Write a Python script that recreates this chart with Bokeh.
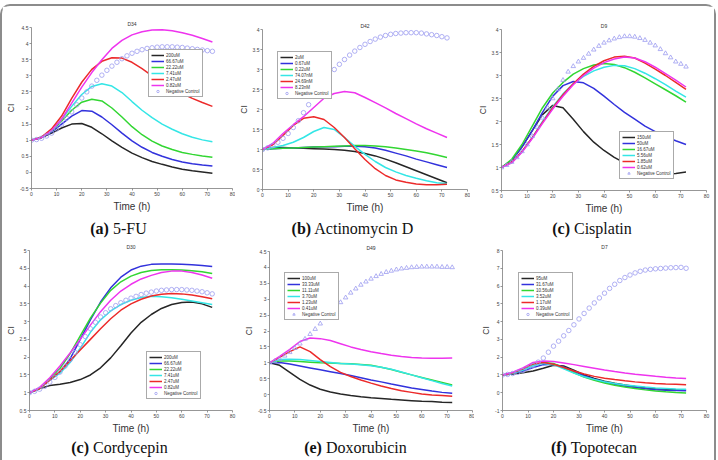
from bokeh.plotting import figure
from bokeh.models import Legend, LegendItem, Div, Range1d, FixedTicker, PrintfTickFormatter
from bokeh.layouts import column, row
from bokeh.embed import file_html
from bokeh.resources import INLINE

# sampling times (hours)
t_fit = [0, 4, 8, 12, 16, 20, 24, 28, 32, 36, 40, 44, 48, 52, 56, 60, 64, 68, 72]
t_ctrl = list(range(0, 73, 2))

# ---- (a) 5-FU, D34 ----
fu_labels = ["200uM", "66.67uM", "22.22uM", "7.41uM", "2.47uM", "0.82uM"]
fu_200 = [1.0, 1.08, 1.22, 1.38, 1.5, 1.52, 1.4, 1.2, 0.98, 0.78, 0.6, 0.46, 0.34, 0.25, 0.17, 0.1, 0.05, 0.01, -0.03]
fu_66 = [1.0, 1.08, 1.25, 1.5, 1.75, 1.92, 1.9, 1.72, 1.48, 1.22, 0.98, 0.78, 0.62, 0.5, 0.4, 0.32, 0.27, 0.23, 0.2]
fu_22 = [1.0, 1.08, 1.28, 1.6, 1.93, 2.18, 2.27, 2.22, 2.0, 1.72, 1.42, 1.17, 0.97, 0.82, 0.71, 0.62, 0.56, 0.51, 0.47]
fu_7 = [1.0, 1.1, 1.3, 1.65, 2.05, 2.42, 2.67, 2.75, 2.68, 2.48, 2.2, 1.93, 1.7, 1.5, 1.34, 1.2, 1.09, 1.01, 0.95]
fu_2 = [1.0, 1.1, 1.35, 1.75, 2.3, 2.8, 3.2, 3.45, 3.56, 3.55, 3.42, 3.22, 3.0, 2.8, 2.6, 2.45, 2.3, 2.17, 2.05]
fu_08 = [1.0, 1.08, 1.3, 1.65, 2.15, 2.65, 3.1, 3.5, 3.85, 4.1, 4.27, 4.37, 4.42, 4.43, 4.4, 4.34, 4.26, 4.16, 4.05]
fu_ctrl = [1.0, 1.02, 1.06, 1.13, 1.22, 1.35, 1.5, 1.68, 1.88, 2.1, 2.31, 2.5, 2.68, 2.86, 3.02, 3.17, 3.3, 3.42, 3.53,
           3.62, 3.7, 3.76, 3.81, 3.85, 3.87, 3.89, 3.9, 3.9, 3.9, 3.89, 3.88, 3.86, 3.84, 3.82, 3.8, 3.78, 3.76]

# ---- (b) Actinomycin D, D42 ----
act_labels = ["2uM", "0.67uM", "0.22uM", "74.07nM", "24.69nM", "8.23nM"]
act_2u = [1.0, 1.05, 1.05, 1.04, 1.03, 1.02, 1.01, 1.0, 0.98, 0.95, 0.9, 0.84, 0.76, 0.67, 0.57, 0.47, 0.37, 0.27, 0.17]
act_067 = [1.0, 1.02, 1.03, 1.04, 1.05, 1.06, 1.07, 1.07, 1.08, 1.08, 1.07, 1.04, 0.98, 0.91, 0.84, 0.76, 0.69, 0.62, 0.55]
act_022 = [1.0, 1.02, 1.03, 1.04, 1.05, 1.06, 1.07, 1.08, 1.09, 1.1, 1.1, 1.09, 1.07, 1.04, 1.0, 0.96, 0.92, 0.86, 0.8]
act_74n = [1.0, 1.05, 1.1, 1.18, 1.3, 1.45, 1.55, 1.5, 1.3, 1.08, 0.88, 0.7, 0.55, 0.44, 0.35, 0.28, 0.22, 0.17, 0.15]
act_25n = [1.0, 1.12, 1.35, 1.6, 1.78, 1.82, 1.75, 1.55, 1.3, 1.02, 0.75, 0.52, 0.35, 0.24, 0.18, 0.14, 0.12, 0.12, 0.13]
act_8n = [1.0, 1.15, 1.4, 1.62, 1.82, 2.05, 2.28, 2.4, 2.45, 2.42, 2.3, 2.17, 2.04, 1.9, 1.77, 1.64, 1.52, 1.41, 1.3]
act_ctrl = [1.0, 1.04, 1.1, 1.18, 1.28, 1.4, 1.55, 1.72, 1.92, 2.12, 2.33, 2.52, 2.7, 2.86, 3.0, 3.13, 3.25, 3.36, 3.46,
            3.55, 3.63, 3.7, 3.76, 3.81, 3.85, 3.88, 3.9, 3.91, 3.92, 3.92, 3.92, 3.91, 3.89, 3.87, 3.85, 3.82, 3.79]

# ---- (c) Cisplatin, D9 ----
cis_labels = ["150uM", "50uM", "16.67uM", "5.56uM", "1.85uM", "0.62uM"]
cis_150 = [1.0, 1.15, 1.45, 1.8, 2.15, 2.35, 2.3, 2.05, 1.78, 1.55, 1.37, 1.22, 1.1, 1.0, 0.93, 0.88, 0.86, 0.87, 0.9]
cis_50 = [1.0, 1.15, 1.45, 1.8, 2.2, 2.55, 2.78, 2.87, 2.84, 2.72, 2.55, 2.37, 2.2, 2.05, 1.9, 1.78, 1.67, 1.58, 1.5]
cis_16 = [1.0, 1.18, 1.5, 1.9, 2.3, 2.62, 2.85, 3.03, 3.15, 3.23, 3.26, 3.24, 3.17, 3.07, 2.95, 2.82, 2.69, 2.56, 2.42]
cis_5 = [1.0, 1.12, 1.35, 1.65, 2.0, 2.32, 2.6, 2.82, 2.98, 3.1, 3.18, 3.22, 3.21, 3.15, 3.05, 2.93, 2.8, 2.66, 2.53]
cis_1 = [1.0, 1.12, 1.35, 1.65, 1.98, 2.3, 2.58, 2.82, 3.03, 3.2, 3.32, 3.4, 3.42, 3.38, 3.27, 3.14, 3.0, 2.85, 2.7]
cis_06 = [1.0, 1.1, 1.33, 1.63, 1.96, 2.27, 2.55, 2.8, 3.0, 3.16, 3.28, 3.36, 3.4, 3.38, 3.3, 3.18, 3.04, 2.9, 2.75]
cis_ctrl = [1.0, 1.05, 1.12, 1.22, 1.35, 1.5, 1.68, 1.88, 2.08, 2.3, 2.5, 2.7, 2.9, 3.08, 3.2, 3.3, 3.38, 3.47, 3.56,
            3.64, 3.71, 3.76, 3.8, 3.83, 3.85, 3.85, 3.84, 3.81, 3.77, 3.71, 3.65, 3.57, 3.48, 3.39, 3.3, 3.25, 3.19]

# ---- (c) Cordycepin, D30 ----
cor_labels = ["200uM", "66.67uM", "22.22uM", "7.41uM", "2.47uM", "0.82uM"]
cor_200 = [1.0, 1.12, 1.2, 1.24, 1.29, 1.37, 1.5, 1.7, 1.98, 2.32, 2.68, 2.98, 3.2, 3.37, 3.48, 3.54, 3.55, 3.5, 3.4]
cor_66 = [1.0, 1.12, 1.38, 1.58, 1.95, 2.5, 3.05, 3.55, 3.95, 4.25, 4.45, 4.56, 4.61, 4.62, 4.62, 4.61, 4.6, 4.58, 4.55]
cor_22 = [1.0, 1.12, 1.4, 1.68, 2.1, 2.6, 3.1, 3.52, 3.88, 4.12, 4.28, 4.38, 4.44, 4.46, 4.46, 4.45, 4.43, 4.4, 4.35]
cor_7 = [1.0, 1.12, 1.35, 1.55, 1.85, 2.25, 2.7, 3.05, 3.3, 3.48, 3.6, 3.68, 3.71, 3.7, 3.67, 3.63, 3.58, 3.53, 3.48]
cor_2 = [1.0, 1.12, 1.35, 1.6, 1.9, 2.2, 2.5, 2.8, 3.08, 3.32, 3.5, 3.63, 3.72, 3.77, 3.79, 3.78, 3.75, 3.7, 3.64]
cor_08 = [1.0, 1.15, 1.42, 1.75, 2.12, 2.5, 2.9, 3.28, 3.6, 3.86, 4.05, 4.2, 4.3, 4.38, 4.42, 4.42, 4.38, 4.31, 4.22]
cor_ctrl = [1.0, 1.04, 1.1, 1.18, 1.3, 1.43, 1.58, 1.75, 1.93, 2.13, 2.35, 2.58, 2.8, 2.98, 3.13, 3.25, 3.36, 3.45, 3.53,
            3.6, 3.66, 3.71, 3.76, 3.8, 3.83, 3.86, 3.88, 3.89, 3.9, 3.9, 3.9, 3.89, 3.88, 3.86, 3.84, 3.81, 3.78]

# ---- (e) Doxorubicin, D49 ----
dox_labels = ["100uM", "33.33uM", "11.11uM", "3.70uM", "1.23uM", "0.41uM"]
dox_100 = [1.0, 0.92, 0.7, 0.48, 0.3, 0.17, 0.08, 0.02, -0.03, -0.07, -0.1, -0.12, -0.15, -0.17, -0.19, -0.21, -0.22, -0.24, -0.25]
dox_33 = [1.0, 1.01, 0.96, 0.9, 0.84, 0.78, 0.72, 0.66, 0.6, 0.53, 0.46, 0.4, 0.33, 0.27, 0.21, 0.16, 0.11, 0.07, 0.04]
dox_11 = [1.0, 1.06, 1.06, 1.04, 1.02, 1.0, 0.99, 0.98, 0.97, 0.95, 0.92, 0.86, 0.79, 0.7, 0.62, 0.54, 0.46, 0.38, 0.3]
dox_3 = [1.0, 1.1, 1.11, 1.1, 1.07, 1.04, 1.01, 0.98, 0.96, 0.94, 0.91, 0.86, 0.8, 0.71, 0.62, 0.53, 0.44, 0.35, 0.27]
dox_1 = [1.0, 1.17, 1.35, 1.5, 1.35, 1.1, 0.88, 0.7, 0.57, 0.46, 0.36, 0.27, 0.19, 0.12, 0.07, 0.02, -0.01, -0.03, -0.05]
dox_04 = [1.0, 1.2, 1.42, 1.67, 1.78, 1.76, 1.7, 1.6, 1.5, 1.42, 1.35, 1.29, 1.24, 1.2, 1.17, 1.15, 1.14, 1.14, 1.15]
dox_ctrl = [1.0, 1.05, 1.12, 1.22, 1.33, 1.46, 1.6, 1.75, 1.9, 2.06, 2.23, 2.4, 2.57, 2.73, 2.9, 3.05, 3.2, 3.33, 3.45,
            3.55, 3.64, 3.72, 3.79, 3.85, 3.89, 3.93, 3.96, 3.98, 4.0, 4.01, 4.02, 4.02, 4.02, 4.02, 4.01, 4.01, 4.0]

# ---- (f) Topotecan, D7 ----
top_labels = ["95uM", "31.67uM", "10.56uM", "3.52uM", "1.17uM", "0.39uM"]
top_95 = [1.0, 1.05, 1.12, 1.22, 1.38, 1.55, 1.5, 1.27, 1.0, 0.8, 0.65, 0.53, 0.43, 0.35, 0.28, 0.23, 0.2, 0.17, 0.15]
top_31 = [1.0, 1.08, 1.22, 1.42, 1.58, 1.6, 1.45, 1.2, 0.95, 0.76, 0.6, 0.47, 0.37, 0.29, 0.22, 0.17, 0.14, 0.12, 0.11]
top_10 = [1.0, 1.1, 1.3, 1.55, 1.7, 1.65, 1.4, 1.12, 0.88, 0.7, 0.55, 0.42, 0.32, 0.24, 0.16, 0.1, 0.05, 0.01, -0.02]
top_3 = [1.0, 1.1, 1.28, 1.52, 1.65, 1.58, 1.35, 1.1, 0.9, 0.75, 0.62, 0.52, 0.44, 0.38, 0.32, 0.27, 0.24, 0.21, 0.19]
top_1 = [1.0, 1.12, 1.35, 1.62, 1.7, 1.6, 1.42, 1.22, 1.05, 0.92, 0.82, 0.74, 0.67, 0.61, 0.56, 0.52, 0.49, 0.47, 0.45]
top_03 = [1.0, 1.15, 1.4, 1.7, 1.79, 1.75, 1.67, 1.58, 1.48, 1.38, 1.28, 1.19, 1.11, 1.04, 0.98, 0.92, 0.87, 0.83, 0.8]
top_ctrl = [1.0, 1.03, 1.08, 1.15, 1.25, 1.38, 1.53, 1.72, 1.95, 2.28, 2.62, 2.9, 3.2, 3.5, 3.82, 4.15, 4.46, 4.76, 5.05,
            5.33, 5.6, 5.87, 6.1, 6.31, 6.48, 6.62, 6.74, 6.83, 6.9, 6.94, 6.97, 6.99, 7.01, 7.03, 7.04, 7.05, 7.0]

x_ticks = [0, 10, 20, 30, 40, 50, 60, 70, 80]
series_colors = ["#262626", "#3232dc", "#32d632", "#34e6e6", "#ec2a2a", "#ee34ee"]
ctrl_color = "#9c9cf0"
SANS = "Liberation Sans"


def make_panel(name, curves, labels, ctrl, marker, y_lo, y_hi, y_step, w, h, borders, legend_at):
    bl, br, bt, bb = borders
    p = figure(width=w, height=h, x_range=Range1d(0, 80), y_range=Range1d(y_lo, y_hi),
               output_backend="svg", toolbar_location=None, title=name,
               min_border_left=bl, min_border_right=br, min_border_top=bt, min_border_bottom=bb)
    p.outline_line_color = None
    p.grid.visible = False
    p.background_fill_color = "white"
    p.border_fill_color = "white"
    p.title.align = "center"
    p.title.text_font = SANS
    p.title.text_font_size = "5px"
    p.title.text_font_style = "normal"
    p.title.text_color = "#333333"
    p.title.standoff = 2

    n = int(round((y_hi - y_lo) / y_step))
    y_ticks = [round(y_lo + i * y_step, 3) for i in range(n + 1)]
    p.xaxis.ticker = FixedTicker(ticks=x_ticks)
    p.yaxis.ticker = FixedTicker(ticks=y_ticks)
    p.xaxis.axis_label = "Time (h)"
    p.yaxis.axis_label = "CI"
    for ax in p.axis:
        ax.formatter = PrintfTickFormatter(format="%g")
        ax.axis_line_color = "#7c7c7c"
        ax.axis_line_width = 0.8
        ax.major_tick_line_color = "#7c7c7c"
        ax.major_tick_line_width = 0.8
        ax.major_tick_out = 2
        ax.major_tick_in = 0
        ax.minor_tick_out = 0
        ax.minor_tick_in = 0
        ax.major_label_text_font = SANS
        ax.major_label_text_font_size = "5px"
        ax.major_label_text_color = "#444444"
        ax.major_label_standoff = 1
        ax.axis_label_text_font = SANS
        ax.axis_label_text_font_style = "normal"
        ax.axis_label_text_color = "#333333"
    p.xaxis.axis_label_text_font_size = "10px"
    p.xaxis.axis_label_standoff = 2
    p.yaxis.axis_label_text_font_size = "8.5px"
    p.yaxis.axis_label_standoff = 1

    items = []
    for vals, lab, col in zip(curves, labels, series_colors):
        r = p.line(t_fit, vals, line_color=col, line_width=1.5)
        items.append(LegendItem(label=lab, renderers=[r]))
    rc = p.scatter(t_ctrl, ctrl, marker=marker, size=4.5, fill_color=None,
                   line_color=ctrl_color, line_width=0.8)
    items.append(LegendItem(label="Negative Control", renderers=[rc]))

    leg = Legend(items=items, location=legend_at)
    leg.label_text_font = SANS
    leg.label_text_font_size = "4.5px"
    leg.label_text_color = "#333333"
    leg.label_height = 6
    leg.glyph_height = 6
    leg.glyph_width = 13
    leg.label_standoff = 2
    leg.spacing = 0
    leg.padding = 2
    leg.margin = 0
    leg.border_line_color = "#555555"
    leg.border_line_width = 0.7
    leg.background_fill_color = "white"
    leg.background_fill_alpha = 1.0
    p.add_layout(leg)
    return p


def caption(tag, name, w, h):
    return Div(text="<b>(%s)</b> %s" % (tag, name), width=w, height=h, margin=0,
               styles={"text-align": "center", "font-family": "Liberation Serif",
                       "font-size": "16px", "line-height": "%dpx" % h, "color": "#111"})


pa = make_panel("D34", [fu_200, fu_66, fu_22, fu_7, fu_2, fu_08], fu_labels, fu_ctrl, "circle",
                -0.5, 4.5, 0.5, 233, 212, (25, 3, 21, 30), (117, 91))
pb = make_panel("D42", [act_2u, act_067, act_022, act_74n, act_25n, act_8n], act_labels, act_ctrl, "circle",
                0, 4, 0.5, 235, 212, (27, 3, 23, 29), (15, 90))
pc = make_panel("D9", [cis_150, cis_50, cis_16, cis_5, cis_1, cis_06], cis_labels, cis_ctrl, "triangle",
                0.5, 4, 0.5, 244, 212, (31, 8, 23, 28), (118, 11))
pd = make_panel("D30", [cor_200, cor_66, cor_22, cor_7, cor_2, cor_08], cor_labels, cor_ctrl, "circle",
                0.5, 5, 0.5, 235, 196, (26, 5, 9, 25), (117, 11))
pe = make_panel("D49", [dox_100, dox_33, dox_11, dox_3, dox_1, dox_04], dox_labels, dox_ctrl, "triangle",
                -0.5, 4.5, 0.5, 237, 196, (32, 2, 11, 26), (15, 90))
pf = make_panel("D7", [top_95, top_31, top_10, top_3, top_1, top_03], top_labels, top_ctrl, "circle",
                -1, 8, 1, 240, 196, (28, 8, 9, 26), (16, 90))

top_row = row(column(pa, caption("a", "5-FU", 233, 22)),
              column(pb, caption("b", "Actinomycin D", 235, 22)),
              column(pc, caption("c", "Cisplatin", 244, 22)))
bottom_row = row(column(pd, caption("c", "Cordycepin", 235, 24)),
                 column(pe, caption("e", "Doxorubicin", 237, 24)),
                 column(pf, caption("f", "Topotecan", 240, 24)))

page = column(top_row, bottom_row,
              styles={"border": "2px solid #8c8c8c", "border-bottom": "none",
                      "border-radius": "10px 10px 0 0", "margin-top": "4px",
                      "background-color": "white"})

open("out.html", "w").write(file_html(page, INLINE))
